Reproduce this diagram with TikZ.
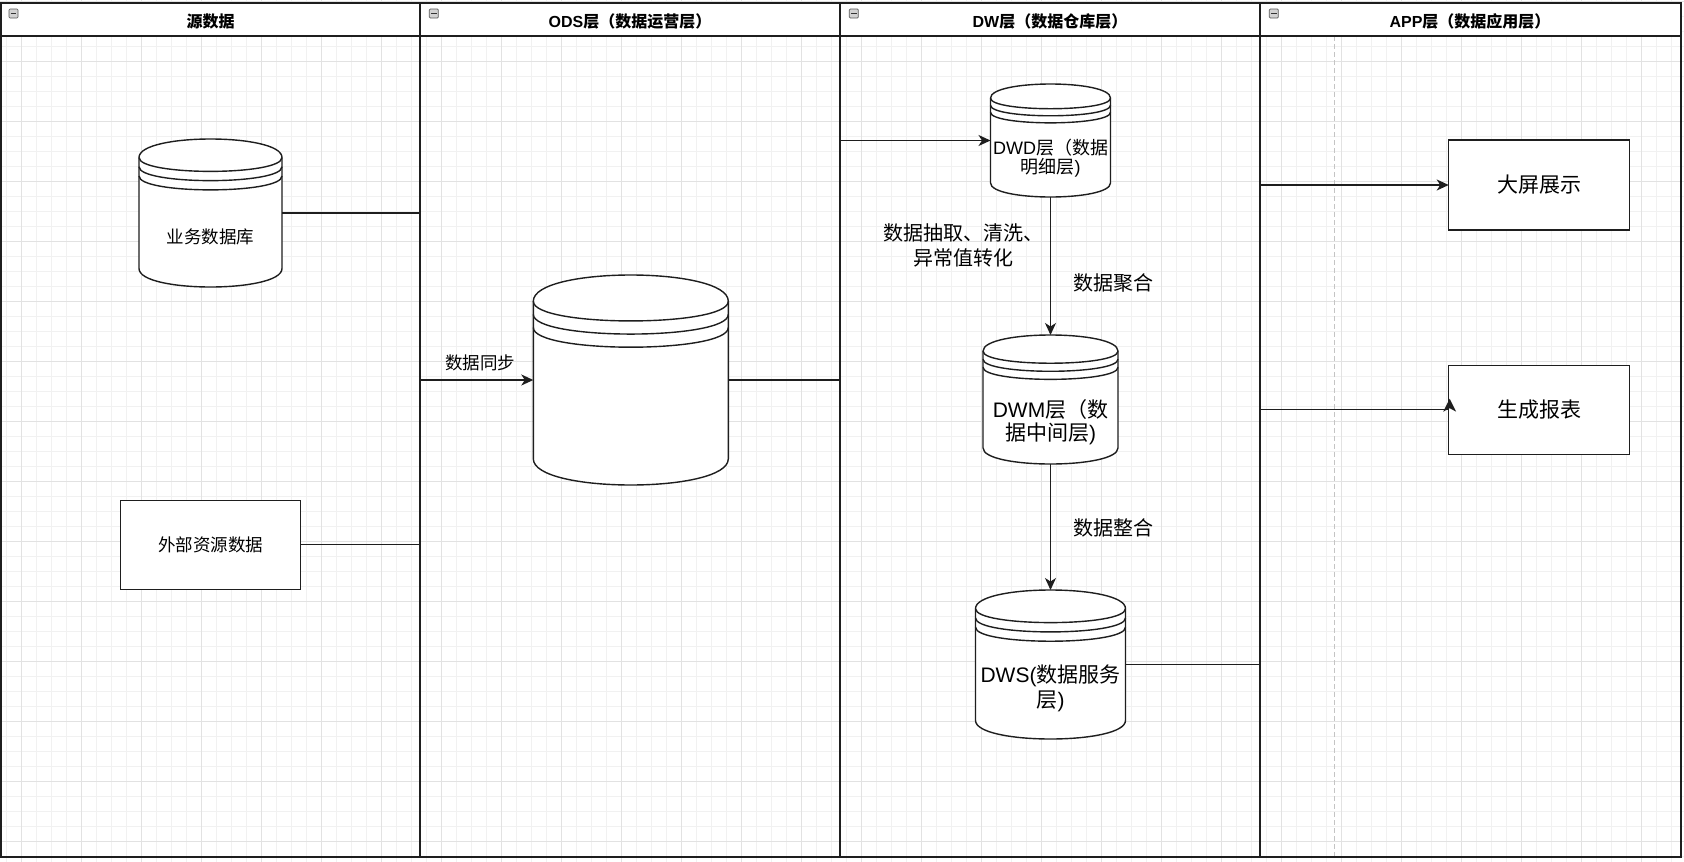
\documentclass[tikz,border=0pt]{standalone}
\usepackage{fontspec}
\setmainfont{Noto Sans CJK SC}
\newfontfamily\latf{Liberation Sans}
\usetikzlibrary{arrows.meta}
\newcommand\LatT[1]{{\latf #1}}
\definecolor{gridminor}{HTML}{F1F1F1}
\definecolor{gridmajor}{HTML}{E2E2E2}
\definecolor{linecol}{HTML}{1E1E1E}
\definecolor{dashcol}{HTML}{C4C4C4}
\tikzset{
  shp/.style={draw=linecol, line width=1.4pt, fill=white},
  arcl/.style={draw=linecol, line width=1.4pt},
  pool/.style={draw=linecol, line width=1.5pt},
  conn/.style={draw=linecol, line width=1.5pt},
  arr/.style={conn, -{Stealth[length=12pt,width=11pt,inset=3.5pt]}},
  boxnode/.style={shp, inner sep=0pt, outer sep=0pt, font=\fontsize{21}{25}\selectfont},
  hdr/.style={font=\bfseries\fontsize{16}{19}\selectfont, inner sep=0pt},
  lbl/.style={inner sep=0pt, align=center},
  icon/.style={draw=gray!70!black, fill=gray!35, minimum size=9pt, inner sep=0pt, rounded corners=1pt, line width=0.7pt},
  hidden/.style={inner sep=0pt, outer sep=0pt}
}
\newcommand\mkstore[5]{%
  \node[hidden, minimum width=#4pt, minimum height=#5pt] (#1) at (#2,#3) {};
  \pgfmathsetmacro\dsL{#2-#4/2}%
  \pgfmathsetmacro\dsR{#2+#4/2}%
  \pgfmathsetmacro\dsT{#3-#5/2}%
  \pgfmathsetmacro\dsB{#3+#5/2}%
  \pgfmathsetmacro\dsD{#5/8}%
  \path[shp] (\dsL,\dsT+\dsD) .. controls (\dsL,\dsT-\dsD/3) and (\dsR,\dsT-\dsD/3) .. (\dsR,\dsT+\dsD) -- (\dsR,\dsB-\dsD) .. controls (\dsR,\dsB+\dsD/3) and (\dsL,\dsB+\dsD/3) .. (\dsL,\dsB-\dsD) -- cycle;
  \foreach \k in {0,0.5,1}{%
    \draw[arcl] (\dsL,\dsT+\dsD+\k*\dsD) .. controls (\dsL,\dsT+2*\dsD+\k*\dsD) and (\dsR,\dsT+2*\dsD+\k*\dsD) .. (\dsR,\dsT+\dsD+\k*\dsD);
  }%
}
\begin{document}
\begin{tikzpicture}[x=1pt,y=-1pt]
\useasboundingbox (0,0) rectangle (1684,862);
\fill[white] (0,0) rectangle (1684,862);
% grid
\foreach \x in {6.7,21.7,...,1684} \draw[gridminor, line width=0.8pt] (\x,0) -- (\x,862);
\foreach \y in {1.7,16.7,...,862} \draw[gridminor, line width=0.8pt] (0,\y) -- (1684,\y);
\foreach \x in {21.7,81.7,...,1684} \draw[gridmajor, line width=0.9pt] (\x,0) -- (\x,862);
\foreach \y in {1.7,61.7,...,862} \draw[gridmajor, line width=0.9pt] (0,\y) -- (1684,\y);
% pool
\fill[white] (1,3) rectangle (1681,36);
\draw[dashcol, line width=1pt, dash pattern=on 5pt off 3pt] (1334,36) -- (1334,857);
\draw[pool] (1,3) rectangle (1681,857);
\draw[pool] (1,36) -- (1681,36);
\draw[pool, line width=2.6pt] (1,857) -- (1681,857);
\foreach \xx in {420,840,1260} \draw[pool] (\xx,3) -- (\xx,857);
% headers
\node[hdr] (h1) at (210.5,21) {源数据};
\node[hdr] (h2) at (630,21) {\LatT{ODS}层（数据运营层）};
\node[hdr] (h3) at (1050,21) {\LatT{DW}层（数据仓库层）};
\node[hdr] (h4) at (1470,21) {\LatT{APP}层（数据应用层）};
\foreach \ix/\nm in {13.5/i1,433.8/i2,853.8/i3,1273.8/i4}{
  \node[icon] (\nm) at (\ix,13.5) {};
  \draw[black!80, line width=1pt] ([xshift=2pt]\nm.west) -- ([xshift=-2pt]\nm.east);
}
% source lane
\mkstore{ywdb}{210.5}{213}{143}{148}
\node[lbl, font=\fontsize{17.5}{21}\selectfont] (ywdbt) at (210.5,237) {业务数据库};
\node[boxnode, minimum width=180pt, minimum height=89pt, font=\fontsize{17.5}{21}\selectfont] (ext) at (210.7,544.7) {外部资源数据};
% ODS lane
\mkstore{ods}{630.8}{380}{195}{210}
% DW lane
\mkstore{dwd}{1050.5}{140.5}{120}{113}
\node[lbl, font=\fontsize{18}{19}\selectfont] (dwdt) at (1050.5,158) {\LatT{DWD}层（数据\\明细层\LatT{)}};
\mkstore{dwm}{1050.5}{399.5}{135}{129}
\node[lbl, font=\fontsize{21}{23.5}\selectfont] (dwmt) at (1050.5,422) {\LatT{DWM}层（数\\据中间层\LatT{)}};
\mkstore{dws}{1050.5}{664.5}{150}{149}
\node[lbl, font=\fontsize{21}{25}\selectfont] (dwst) at (1050.5,688) {\LatT{DWS(}数据服务\\层\LatT{)}};
% APP lane
\node[boxnode, minimum width=180.6pt, minimum height=90pt] (screen) at (1539,185) {大屏展示};
\node[boxnode, minimum width=180.6pt, minimum height=89pt] (report) at (1539,409.7) {生成报表};
% connectors
\coordinate (jA) at (420,380);
\draw[conn] (ywdb.east) -| (jA);
\draw[conn] (ext.east) -| (jA);
\draw[arr] (jA) -- (ods.west);
\coordinate (jB) at (840,140.5);
\draw[conn] (ods.east) -| (jB);
\draw[arr] (jB) -- (dwd.west);
\draw[arr] (dwd.south) -- (dwm.north);
\draw[arr] (dwm.south) -- (dws.north);
\coordinate (jC) at (1260,185);
\coordinate (jD) at (1260,409.7);
\draw[conn] (dws.east) -| (jC);
\draw[arr] (jC) -- (screen.west);
\draw[conn] (jD) -- (report.west);
\fill[linecol] (report.west) ++(1,-11) -- ++(-6.5,13) -- ++(6.5,-3.5) -- ++(6.5,3.5) -- cycle;
% labels
\node[lbl, font=\fontsize{17.5}{21}\selectfont] (lsync) at (480,362.7) {数据同步};
\node[lbl, font=\fontsize{20}{24.5}\selectfont] (letl) at (963,245.5) {数据抽取、清洗、\\异常值转化};
\node[lbl, font=\fontsize{20}{24}\selectfont] (lagg) at (1113,282.5) {数据聚合};
\node[lbl, font=\fontsize{20}{24}\selectfont] (lint) at (1113,528) {数据整合};
\end{tikzpicture}
\end{document}
